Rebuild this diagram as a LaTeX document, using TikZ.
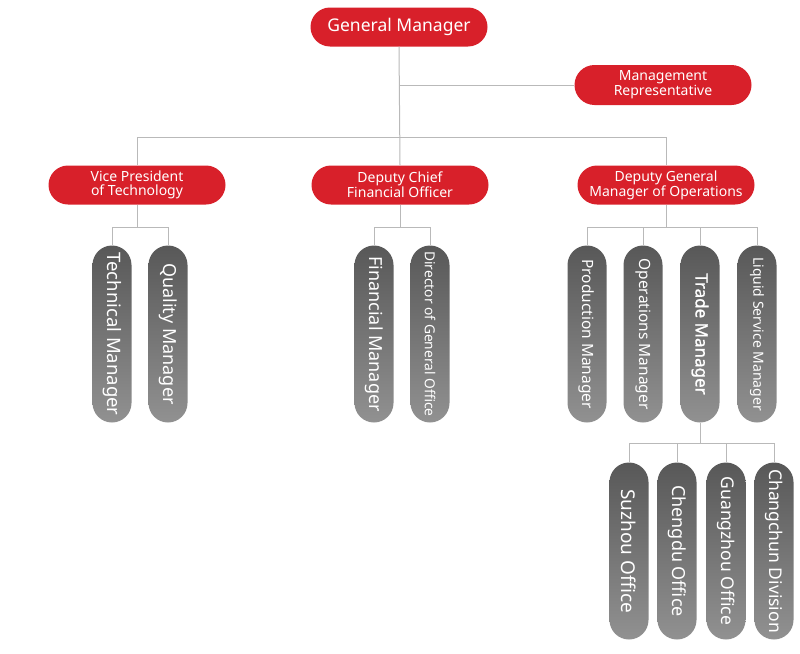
\documentclass[tikz,border=0pt]{standalone}
\usepackage{fontspec}
\setmainfont{Noto Sans}
\newfontfamily\trdfont[FakeBold=1.3]{Noto Sans}
\definecolor{rd}{RGB}{216,32,42}
\definecolor{gtop}{RGB}{88,88,88}
\definecolor{gbot}{RGB}{145,145,145}
\definecolor{ln}{RGB}{185,185,185}
\begin{document}
\begin{tikzpicture}[x=1pt,y=-1pt,
  redbox/.style={fill=rd,text=white,rounded corners=19.5pt,minimum width=177pt,minimum height=39pt,inner sep=0pt,align=center,font=\fontsize{14}{13.5}\selectfont},
  graybox/.style={rotate=-90,top color=gtop,bottom color=gbot,draw=none,text=white,rounded corners=19.5pt,minimum width=177pt,minimum height=39pt,inner sep=0pt},
  conn/.style={draw=ln,line width=1pt}]
\useasboundingbox (0,0) rectangle (800,653);
% top
\node[redbox,font=\fontsize{17.5}{17}\selectfont] (gm) at (399,27) {General Manager};
\node[redbox,minimum height=40pt,rounded corners=20pt] (mr) at (663,85) {Management\\Representative};
\node[redbox] (vp) at (137,185) {Vice President\\of Technology};
\node[redbox] (dcfo) at (400,185) {Deputy Chief\\Financial Officer};
\node[redbox] (dgm) at (666,185) {Deputy General\\Manager of Operations};
% level 3
\node[graybox,font=\fontsize{18.5}{18}\selectfont] (tm) at (112,334) {Technical Manager};
\node[graybox,font=\fontsize{18}{18}\selectfont] (qm) at (168,334) {Quality Manager};
\node[graybox,font=\fontsize{18}{18}\selectfont] (fm) at (374,334) {Financial Manager};
\node[graybox,font=\fontsize{13.8}{13}\selectfont] (dgo) at (430,334) {Director of General Office};
\node[graybox,font=\fontsize{15.5}{15}\selectfont] (pm) at (587,334) {Production Manager};
\node[graybox,font=\fontsize{15.5}{15}\selectfont] (om) at (643,334) {Operations Manager};
\node[graybox,font=\trdfont\fontsize{17}{17}\selectfont] (trm) at (700,334) {Trade Manager};
\node[graybox,font=\fontsize{14}{13}\selectfont] (lsm) at (757,334) {Liquid Service Manager};
% level 4
\node[graybox,font=\fontsize{19}{19}\selectfont] (so) at (629,551) {Suzhou Office};
\node[graybox,font=\fontsize{18}{18}\selectfont] (co) at (677,551) {Chengdu Office};
\node[graybox,font=\fontsize{17.5}{17}\selectfont] (go) at (726,551) {Guangzhou Office};
\node[graybox,font=\fontsize{17.5}{17}\selectfont] (cd) at (774,551) {Changchun Division};
% junction coordinates
\coordinate (bus) at (0,137);
\coordinate (j1) at (0,227);
\coordinate (j2) at (0,443);
% connectors
\draw[conn] (gm.south) -- (dcfo.north);
\draw[conn] (gm.south |- mr.west) -- (mr.west);
\draw[conn] (vp.north) |- (dgm.north |- bus) -- (dgm.north);
\draw[conn] (vp.south) -- (vp.south |- j1);
\draw[conn] (tm.west) |- (qm.west |- j1) -- (qm.west);
\draw[conn] (dcfo.south) -- (dcfo.south |- j1);
\draw[conn] (fm.west) |- (dgo.west |- j1) -- (dgo.west);
\draw[conn] (dgm.south) -- (dgm.south |- j1);
\draw[conn] (pm.west) |- (lsm.west |- j1) -- (lsm.west);
\draw[conn] (om.west |- j1) -- (om.west);
\draw[conn] (trm.west |- j1) -- (trm.west);
\draw[conn] (trm.east) -- (trm.east |- j2);
\draw[conn] (so.west) |- (cd.west |- j2) -- (cd.west);
\draw[conn] (co.west |- j2) -- (co.west);
\draw[conn] (go.west |- j2) -- (go.west);
\end{tikzpicture}
\end{document}
